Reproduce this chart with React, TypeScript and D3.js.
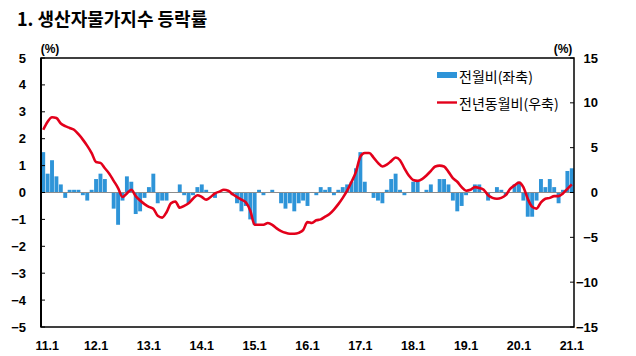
import React from "react";
import * as d3 from "d3";

const yearLabels = ["11.1", "12.1", "13.1", "14.1", "15.1", "16.1", "17.1", "18.1", "19.1", "20.1", "21.1"];

// Month-on-month change (left axis), 2011.1 - 2021.1
const momValues = [
  1.5, 0.7, 1.2, 0.6, 0.3, -0.2, 0.1, 0.1, 0.1, -0.1, -0.3, 0.1,
  0.5, 0.7, 0.5, 0.0, -0.6, -1.2, -0.3, 0.6, 0.4, -0.8, -0.7, -0.2,
  0.2, 0.7, -0.4, -0.3, -0.3, 0.0, 0.0, 0.3, -0.1, -0.4, -0.1, 0.2,
  0.3, 0.1, 0.0, -0.2, 0.0, 0.0, 0.0, -0.1, -0.4, -0.7, -0.5, -1.0,
  -1.2, 0.1, -0.1, 0.0, 0.1, 0.0, -0.4, -0.6, -0.4, -0.7, -0.4, -0.3,
  -0.5, 0.0, -0.1, 0.2, 0.1, 0.2, -0.1, 0.1, 0.2, 0.3, 0.4, 0.9,
  1.5, 0.4, 0.0, -0.2, -0.3, -0.4, 0.1, 0.5, 0.7, 0.1, -0.1, 0.0,
  0.4, 0.4, 0.0, 0.1, 0.3, 0.0, 0.5, 0.5, 0.3, -0.3, -0.7, -0.5,
  -0.1, 0.0, 0.3, 0.3, 0.0, -0.3, 0.0, 0.2, 0.1, -0.1, 0.0, 0.3,
  0.4, -0.3, -0.9, -0.9, -0.3, 0.5, 0.2, 0.5, 0.2, -0.4, 0.1, 0.8,
  0.9,
];

// Year-on-year change (right axis)
const yoyValues = [
  7.0, 7.9, 8.4, 8.3, 7.7, 7.4, 7.2, 7.0, 6.5, 5.9, 5.2, 4.4,
  3.4, 3.3, 2.7, 2.1, 1.3, 0.5, -0.5, -0.1, 0.3, -0.4, -0.9, -1.3,
  -1.6, -1.8, -2.6, -2.8, -2.2, -1.2, -1.0, -1.7, -1.5, -1.2, -0.7, -0.3,
  -0.5, -0.8, -0.5, -0.1, 0.1, 0.3, 0.2, -0.2, -0.5, -0.8, -1.1, -2.0,
  -3.6, -3.6, -3.6, -3.4, -3.6, -4.0, -4.3, -4.5, -4.6, -4.6, -4.5, -4.2,
  -3.3, -3.4, -3.1, -3.0, -2.7, -2.4, -1.9, -1.3, -0.6, 0.2, 1.2, 2.3,
  4.0, 4.4, 4.4, 3.9, 3.3, 2.9, 3.1, 3.5, 3.9, 3.6, 2.7, 1.9,
  1.4, 1.3, 1.5, 1.9, 2.4, 2.9, 3.0, 2.9, 2.3, 1.6, 1.2, 0.6,
  0.2, 0.3, 0.6, 0.5, 0.3, -0.3, -0.6, -0.7, -0.6, -0.3, 0.4, 0.8,
  1.1, 0.6, -0.7, -1.6, -1.8, -1.1, -0.7, -0.6, -0.4, -0.4, -0.1, 0.4,
  0.9,
];

const leftTicks = [5, 4, 3, 2, 1, 0, -1, -2, -3, -4, -5];
const rightTicks = [15, 10, 5, 0, -5, -10, -15];
const legendLabels = ["전월비(좌축)", "전년동월비(우축)"];
const titleText = "1. 생산자물가지수 등락률";

const W = 636;
const H = 356;
const L = 41;
const R = 574;
const T = 58;
const B = 327;

const numFont = "'Liberation Sans', Arial, sans-serif";
const krFont = "'Noto Sans CJK KR', 'Noto Sans', sans-serif";

function fmt(v: number) {
  return v < 0 ? "\u2212" + Math.abs(v) : String(v);
}

export default function App() {
  const idx = d3.range(momValues.length);
  const x = d3.scaleBand<number>().domain(idx).range([L, R]).padding(0);
  const yL = d3.scaleLinear().domain([-5, 5]).range([B, T]);
  const yR = d3.scaleLinear().domain([-15, 15]).range([B, T]);
  const bw = x.bandwidth();
  const cx = (i: number) => (x(i) as number) + bw / 2;

  const line = d3
    .line<number>()
    .x((_, i) => cx(i))
    .y((d) => yR(d))
    .curve(d3.curveMonotoneX);

  return (
    <svg
      width={W}
      height={H}
      style={{ position: "absolute", left: 0, top: 0, background: "#fff" }}
    >
      <text x={17} y={26} fontFamily={krFont} fontWeight="bold" fontSize={18} fill="#000">
        {titleText}
      </text>
      <text x={50} y={53} textAnchor="middle" fontFamily={numFont} fontWeight="bold" fontSize={12}>
        (%)
      </text>
      <text x={563} y={53} textAnchor="middle" fontFamily={numFont} fontWeight="bold" fontSize={12}>
        (%)
      </text>

      {/* bars */}
      {momValues.map((v, i) => (
        <rect
          key={"b" + i}
          x={(x(i) as number) + 0.25}
          y={Math.min(yL(v), yL(0))}
          width={bw - 0.5}
          height={Math.abs(yL(v) - yL(0))}
          fill="#2e94d8"
        />
      ))}

      {/* zero line */}
      <line x1={L} x2={R} y1={yL(0)} y2={yL(0)} stroke="#8c8c8c" strokeWidth={1.2} />

      {/* yoy line */}
      <path d={line(yoyValues) || ""} fill="none" stroke="#e3001b" strokeWidth={2.6} strokeLinejoin="round" />

      {/* frame */}
      <rect x={L} y={T} width={R - L} height={B - T} fill="none" stroke="#000" strokeWidth={1.5} />
      <line x1={L} x2={L} y1={T} y2={B} stroke="#000" strokeWidth={2} />

      {/* left ticks */}
      {leftTicks.map((t) => (
        <g key={"lt" + t}>
          <line x1={L} x2={L + 4} y1={yL(t)} y2={yL(t)} stroke="#000" strokeWidth={1} />
          <text
            x={26}
            y={yL(t) + 4.5}
            textAnchor="end"
            fontFamily={numFont}
            fontWeight="bold"
            fontSize={13}
          >
            {fmt(t)}
          </text>
        </g>
      ))}

      {/* right ticks */}
      {rightTicks.map((t) => (
        <g key={"rt" + t}>
          <line x1={R - 4} x2={R} y1={yR(t)} y2={yR(t)} stroke="#000" strokeWidth={1} />
          <text
            x={598}
            y={yR(t) + 4.5}
            textAnchor="end"
            fontFamily={numFont}
            fontWeight="bold"
            fontSize={13}
          >
            {fmt(t)}
          </text>
        </g>
      ))}

      {/* x labels */}
      {yearLabels.map((lab, k) => (
        <text
          key={lab}
          x={cx(k * 12) + (k === 0 ? 4 : 0)}
          y={350}
          textAnchor="middle"
          fontFamily={numFont}
          fontWeight="bold"
          fontSize={12.5}
        >
          {lab}
        </text>
      ))}

      {/* legend */}
      <rect x={437} y={72} width={20} height={6} fill="#2e94d8" />
      <text x={459} y={82} fontFamily={krFont} fontSize={14}>
        {legendLabels[0]}
      </text>
      <line x1={437} x2={457} y1={102.5} y2={102.5} stroke="#e3001b" strokeWidth={2.4} />
      <text x={459} y={109} fontFamily={krFont} fontSize={14}>
        {legendLabels[1]}
      </text>
    </svg>
  );
}
